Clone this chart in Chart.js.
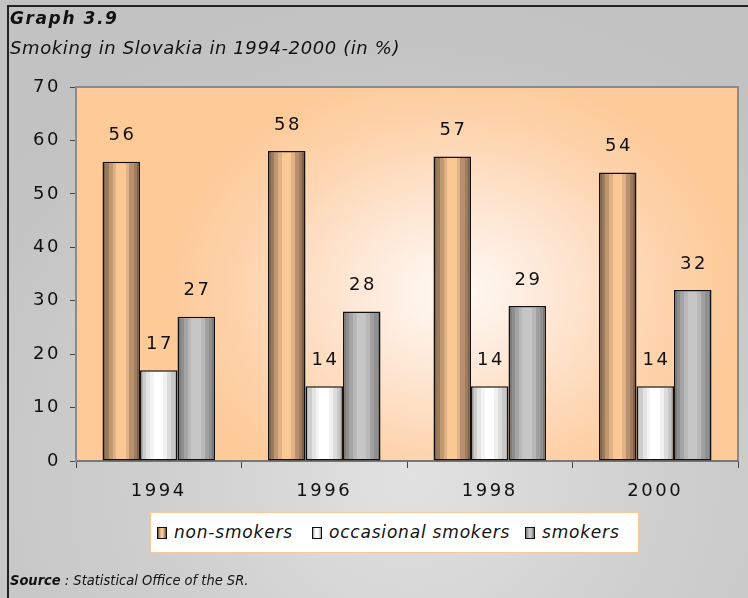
<!DOCTYPE html>
<html>
<head>
<meta charset="utf-8">
<script src="https://cdn.jsdelivr.net/npm/chart.js@4"></script>
<style>
  html, body { margin: 0; padding: 0; }
  body {
    width: 748px; height: 598px; overflow: hidden; position: relative;
    background: radial-gradient(ellipse 70% 80% at 55% 80%, #e2e2e2 0%, #d0d0d0 45%, #c2c2c2 100%);
    font-family: "DejaVu Sans", Verdana, sans-serif; color: #111;
  }
  #frame { position: absolute; left: 7px; top: 5px; right: -4px; bottom: -4px;
    border-left: 2px solid #222; border-top: 2px solid #222; }
  #chart { position: absolute; left: 0; top: 0; }
  .txt { position: absolute; left: 10px; font-style: italic; white-space: nowrap; line-height: 1.2; }
  #title { top: 8px; font-size: 17px; font-weight: bold; letter-spacing: 1.6px; }
  #subtitle { top: 37px; font-size: 18px; letter-spacing: 0.6px; }
  #source { top: 572px; font-size: 14.5px; font-family: "DejaVu Sans Condensed", "DejaVu Sans", sans-serif; }
  #legend { position: absolute; left: 150px; top: 512px; width: 489px; height: 41px;
    background: #fff; border: 1px solid #f6c89a; box-sizing: border-box; }
  .item { position: absolute; top: 9px; font-style: italic; font-size: 17px; letter-spacing: 0.8px; white-space: nowrap; line-height: 1.2; }
  .mark { display: inline-block; width: 8px; height: 10px; border: 1.5px solid #111; vertical-align: -1px; margin-right: 7px; }
</style>
</head>
<body>
<div id="frame"></div>
<canvas id="chart" width="748" height="598"></canvas>
<div id="title" class="txt">Graph 3.9</div>
<div id="subtitle" class="txt">Smoking in Slovakia in 1994-2000 (in %)</div>
<div id="legend"></div>
<div id="source" class="txt"><b>Source</b> : Statistical Office of the SR.</div>
<script>
const years = ['1994', '1996', '1998', '2000'];
const seriesNames = ['non-smokers', 'occasional smokers', 'smokers'];
const nonSmokers = [56, 58, 57, 54];
const occasionalSmokers = [17, 14, 14, 14];
const smokers = [27, 28, 29, 32];
const yTicks = [0, 10, 20, 30, 40, 50, 60, 70];

// banded shading for each series, left to right: [colour, band start, band end]
const shades = [
    [['#7d6048', 0, 0.08], ['#9b7a5c', 0.08, 0.17], ['#c09870', 0.17, 0.27], ['#dfb184', 0.27, 0.37], ['#f9c894', 0.37, 0.62],
     ['#e0b286', 0.62, 0.72], ['#b89070', 0.72, 0.83], ['#a07c5e', 0.83, 0.92], ['#7e6048', 0.92, 1]],
    [['#b4b4b4', 0, 0.08], ['#cdcdcd', 0.08, 0.17], ['#e4e4e4', 0.17, 0.27], ['#f4f4f4', 0.27, 0.37], ['#ffffff', 0.37, 0.62],
     ['#f0f0f0', 0.62, 0.72], ['#dcdcdc', 0.72, 0.83], ['#c8c8c8', 0.83, 0.92], ['#b0b0b0', 0.92, 1]],
    [['#7c7c7c', 0, 0.08], ['#8e8e8e', 0.08, 0.17], ['#a4a4a4', 0.17, 0.27], ['#b8b8b8', 0.27, 0.37], ['#c6c6c6', 0.37, 0.62],
     ['#b8b8b8', 0.62, 0.72], ['#a0a0a0', 0.72, 0.83], ['#909090', 0.83, 0.92], ['#787878', 0.92, 1]],
];
const catPct = 0.68;
const numSpacing = 2.6;

// legend built from the series names
const legendX = [6, 161, 374];
document.getElementById('legend').innerHTML = seriesNames.map((name, i) => {
    const bg = shades[i].map(([c, a, b]) => `${c} ${a * 100}%, ${c} ${b * 100}%`).join(',');
    return `<span class="item" style="left:${legendX[i]}px"><span class="mark" style="background:linear-gradient(90deg,${bg})"></span>${name}</span>`;
}).join('');

function barFill(ctx) {
    const chart = ctx.chart;
    const area = chart.chartArea;
    const xs = chart.scales.x;
    const bands = shades[ctx.datasetIndex];
    if (!area || !xs) return bands[4][0];
    const catW = (area.right - area.left) / years.length;
    const barW = catW * catPct / 3;
    const left = xs.getPixelForValue(ctx.dataIndex) - catW * catPct / 2 + ctx.datasetIndex * barW;
    const g = chart.ctx.createLinearGradient(left, 0, left + barW, 0);
    bands.forEach(([c, a, b]) => { g.addColorStop(a, c); g.addColorStop(b, c); });
    return g;
}

const plotBackground = {
    id: 'plotBackground',
    beforeDraw(chart) {
        const { ctx, chartArea: a } = chart;
        ctx.letterSpacing = numSpacing + 'px';
        ctx.save();
        const cx = a.left + (a.right - a.left) * 0.57;
        const cy = a.top + (a.bottom - a.top) * 0.55;
        ctx.translate(cx, cy);
        ctx.scale(1.25, 1);
        const g = ctx.createRadialGradient(0, 0, 0, 0, 0, 230);
        g.addColorStop(0, '#fffaf6');
        g.addColorStop(0.3, '#feeadb');
        g.addColorStop(0.7, '#fdd5b0');
        g.addColorStop(1, '#fdca98');
        ctx.fillStyle = g;
        ctx.fillRect((a.left - cx) / 1.25, a.top - cy, (a.right - a.left) / 1.25, a.bottom - a.top);
        ctx.restore();
        ctx.save();
        ctx.strokeStyle = '#8a8a8a';
        ctx.lineWidth = 2;
        ctx.strokeRect(a.left, a.top, a.right - a.left, a.bottom - a.top);
        ctx.restore();
    },
    afterDatasetsDraw(chart) {
        const ctx = chart.ctx;
        ctx.save();
        ctx.font = '18px "DejaVu Sans"';
        ctx.letterSpacing = numSpacing + 'px';
        ctx.fillStyle = '#111';
        ctx.textAlign = 'center';
        ctx.textBaseline = 'middle';
        chart.data.datasets.forEach((ds, di) => {
            chart.getDatasetMeta(di).data.forEach((bar, i) => {
                ctx.fillText(String(ds.data[i]), bar.x + numSpacing / 2, bar.y - 26);
            });
        });
        ctx.restore();
    },
};

new Chart(document.getElementById('chart'), {
    type: 'bar',
    data: {
        labels: years,
        datasets: [nonSmokers, occasionalSmokers, smokers].map((data, i) => ({
            label: seriesNames[i],
            data,
            backgroundColor: barFill,
            borderColor: '#111',
            borderWidth: 1.5,
            borderSkipped: false,
            categoryPercentage: catPct,
            barPercentage: 1,
        })),
    },
    options: {
        responsive: false,
        animation: false,
        layout: { padding: { left: 0, top: 87, right: 10, bottom: 0 } },
        scales: {
            x: {
                afterFit(scale) { scale.height = 137; },
                grid: { offset: true, drawOnChartArea: false, drawTicks: true, tickLength: 7, color: '#444', lineWidth: 1 },
                border: { color: '#777', width: 2 },
                ticks: { color: '#111', padding: 13, font: { family: 'DejaVu Sans', size: 18 } },
            },
            y: {
                min: yTicks[0],
                max: yTicks[yTicks.length - 1],
                afterFit(scale) { scale.width = 76; },
                afterBuildTicks(scale) { scale.ticks = yTicks.map(v => ({ value: v })); },
                grid: { drawOnChartArea: false, drawTicks: true, tickLength: 6, color: '#444' },
                border: { color: '#8a8a8a', width: 2 },
                ticks: { color: '#111', padding: 9, font: { family: 'DejaVu Sans', size: 18 } },
            },
        },
        plugins: { legend: { display: false }, tooltip: { enabled: false } },
    },
    plugins: [plotBackground],
});
</script>
</body>
</html>
